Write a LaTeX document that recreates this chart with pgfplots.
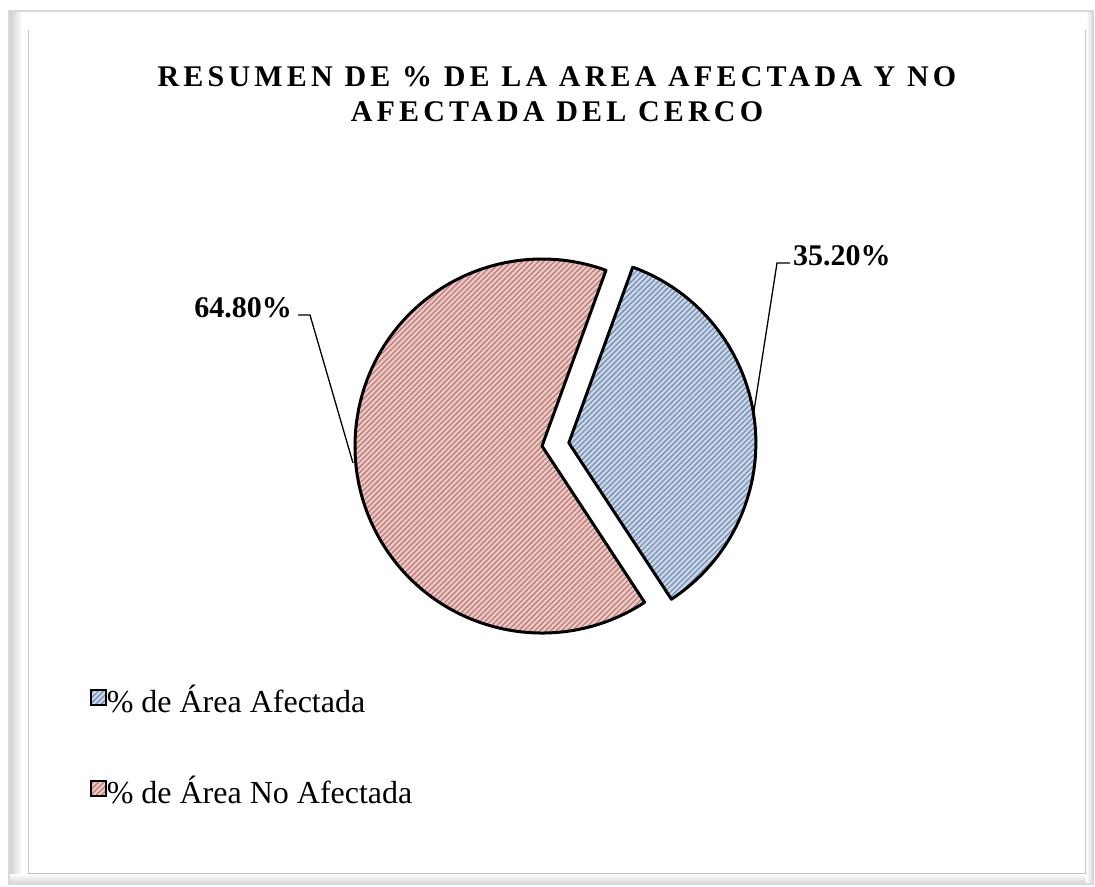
\documentclass[border=0pt]{standalone}
\usepackage{pgfplots}
\pgfplotsset{compat=1.18}
\usepackage{pgfplotstable}
\usepackage{fontspec}
\setmainfont{Liberation Serif}
\newfontfamily\titlefont[LetterSpace=14]{Liberation Serif Bold}
\usetikzlibrary{patterns.meta,calc}

\definecolor{afbase}{HTML}{C6D8F0}
\definecolor{afline}{HTML}{7F8FA6}
\definecolor{nobase}{HTML}{F3C6C2}
\definecolor{noline}{HTML}{B08282}

% porcentajes de area
\pgfplotstableread{
cat valor
1 35.20
2 64.80
}\datos

\pgfplotstablegetelem{0}{valor}\of\datos \let\va\pgfplotsretval
\pgfplotstablegetelem{1}{valor}\of\datos \let\vb\pgfplotsretval
% angulo del primer sector: 20 grados desde arriba (horario)
\pgfmathsetmacro\aini{90-20}
\pgfmathsetmacro\afin{\aini-3.6*\va}
\pgfmathsetmacro\amid{(\aini+\afin)/2}
\pgfmathsetmacro\bfin{\afin-3.6*\vb}

\tikzset{
  hatchaf/.style={pattern={Lines[angle=45,distance=3.8bp,line width=1.3bp]},pattern color=afline},
  hatchno/.style={pattern={Lines[angle=45,distance=3.8bp,line width=1.3bp]},pattern color=noline},
}

\begin{document}
\begin{tikzpicture}
\begin{axis}[
  width=1095bp, height=886bp, scale only axis,
  xmin=0, xmax=1095, ymin=0, ymax=886,
  y dir=reverse,
  hide axis, clip=false,
  legend style={at={(axis cs:90,688)}, anchor=north west, draw=none, fill=none,
    font=\fontsize{32bp}{38bp}\selectfont, row sep=60bp, inner sep=0pt,
    nodes={text height=24bp, text depth=7bp, inner sep=0pt},
    cells={anchor=west}},
  legend image code/.code={},
]
% marco
\path (axis cs:0,0) rectangle (axis cs:1095,886);
\shade[left color=gray!40, right color=white] (axis cs:9,12) rectangle (axis cs:22,882);
\shade[bottom color=gray!35, top color=white] (axis cs:9,874) rectangle (axis cs:1093,884);
\shade[left color=white, right color=gray!30] (axis cs:1086,12) rectangle (axis cs:1093,884);
\draw[gray!30, line width=2bp] (axis cs:9,11) rectangle (axis cs:1093,884);
\draw[gray!45, line width=1bp] (axis cs:28,30) -- (axis cs:28,873) -- (axis cs:1085,873) -- (axis cs:1085,30);

% titulo
\node[anchor=base, font=\titlefont\fontsize{30bp}{36bp}\selectfont] at (axis cs:557,87) {RESUMEN DE \% DE LA AREA AFECTADA Y NO};
\node[anchor=base, font=\titlefont\fontsize{30bp}{36bp}\selectfont] at (axis cs:557,121) {AFECTADA DEL CERCO};

% sector no afectado
\coordinate (cn) at (axis cs:542,446);
\fill[nobase] (cn) -- ++(\afin:187bp) arc[start angle=\afin, end angle=\bfin, radius=187bp] -- cycle;
\fill[hatchno] (cn) -- ++(\afin:187bp) arc[start angle=\afin, end angle=\bfin, radius=187bp] -- cycle;
\draw[line width=3bp, line join=round] (cn) -- ++(\afin:187bp) arc[start angle=\afin, end angle=\bfin, radius=187bp] -- cycle;

% sector afectado (separado)
\coordinate (ca) at ($(cn)+(\amid:27bp)$);
\fill[afbase] (ca) -- ++(\aini:187bp) arc[start angle=\aini, end angle=\afin, radius=187bp] -- cycle;
\fill[hatchaf] (ca) -- ++(\aini:187bp) arc[start angle=\aini, end angle=\afin, radius=187bp] -- cycle;
\draw[line width=3bp, line join=round] (ca) -- ++(\aini:187bp) arc[start angle=\aini, end angle=\afin, radius=187bp] -- cycle;

% etiquetas
\draw[line width=1.3bp] (axis cs:790,263) -- (axis cs:777,263) -- (axis cs:753,417);
\draw[line width=1.3bp] (axis cs:298,315) -- (axis cs:310,315) -- (axis cs:353,463);
\node[anchor=base west, inner sep=0pt, font=\bfseries\fontsize{30bp}{36bp}\selectfont] at (axis cs:793,265) {\va\%};
\node[anchor=base east, inner sep=0pt, font=\bfseries\fontsize{30bp}{36bp}\selectfont] at (axis cs:292,317) {\vb\%};

% leyenda
\addlegendimage{legend image code/.code={
  \fill[afbase] (0bp,-1bp) rectangle (15bp,14bp);
  \fill[hatchaf] (0bp,-1bp) rectangle (15bp,14bp);
  \draw[line width=1.6bp, black] (0bp,-1bp) rectangle (15bp,14bp);}}
\addlegendentry{\% de Área Afectada}
\addlegendimage{legend image code/.code={
  \fill[nobase] (0bp,-1bp) rectangle (15bp,14bp);
  \fill[hatchno] (0bp,-1bp) rectangle (15bp,14bp);
  \draw[line width=1.6bp, black] (0bp,-1bp) rectangle (15bp,14bp);}}
\addlegendentry{\% de Área No Afectada}
\end{axis}
\end{tikzpicture}
\end{document}
